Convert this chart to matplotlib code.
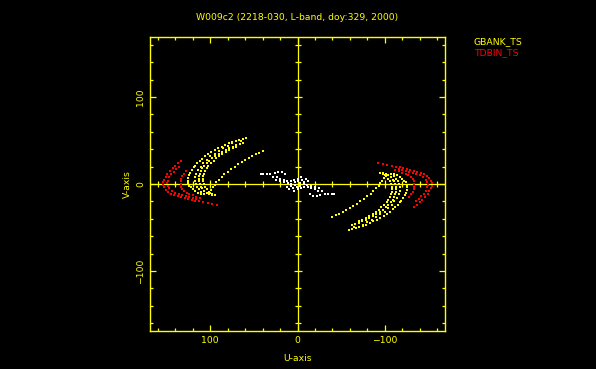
import matplotlib
matplotlib.use("Agg")
import matplotlib.pyplot as plt
import numpy as np

# ---------------- data (u, v) in kilo-lambda, one half of the uv-plane ----------------
# GBANK_TS tracks (yellow)
gb_u1 = [59, 63, 67, 71, 75, 79, 83, 87, 91, 95, 99, 103, 106, 109, 112, 115, 117, 119, 121, 123, 124, 125, 125, 125, 124, 122, 120, 117, 114, 111]
gb_v1 = [53, 52, 51, 50, 48, 47, 45, 43, 41, 39, 37, 34, 32, 29, 27, 24, 21, 19, 16, 13, 10, 7, 4, 1, -2, -4, -6, -8, -10, -11]
gb_u2 = [62, 66, 70, 74, 78, 82, 86, 90, 94, 98, 101, 104, 107, 109, 111, 112, 113, 113, 113, 112, 111, 109, 107, 104, 101, 98]
gb_v2 = [47, 46, 45, 43, 41, 39, 37, 35, 32, 30, 27, 24, 21, 18, 15, 12, 9, 6, 3, 0, -3, -5, -8, -10, -12, -13]
gb_u3 = [70, 74, 78, 82, 86, 90, 93, 96, 99, 102, 104, 106, 107, 108, 108, 108, 107, 106, 104, 101, 98, 95]
gb_v3 = [43, 41, 39, 37, 35, 32, 30, 27, 24, 21, 18, 15, 12, 9, 6, 3, 0, -3, -6, -9, -11, -13]
gb_u4 = [40, 44, 48, 52, 56, 60, 64, 68, 72, 76, 80, 84, 87, 90, 93, 95, 97, 99, 100, 101]
gb_v4 = [38, 36, 34, 32, 30, 28, 25, 23, 20, 17, 14, 11, 8, 5, 2, -1, -4, -7, -10, -12]
gb_u5 = [65, 70, 75, 80, 85, 90, 95, 100, 104, 108, 111, 114, 116, 117, 117, 116, 115, 113, 110, 107]
gb_v5 = [50, 49, 47, 44, 41, 38, 35, 32, 28, 24, 20, 16, 12, 8, 4, 0, -3, -6, -9, -11]

# TDBIN_TS tracks (red)
td_u1 = [134, 137, 140, 143, 146, 149, 151, 153, 154, 154, 153, 151, 148, 145, 141, 137, 133, 129, 125, 121, 117, 113, 108, 103, 98, 92]
td_v1 = [27, 24, 21, 18, 15, 11, 8, 5, 2, -1, -4, -7, -9, -11, -13, -14, -15, -16, -17, -18, -19, -20, -21, -22, -23, -24]
td_u2 = [136, 139, 142, 145, 147, 148, 149, 148, 147, 144, 140, 136, 132, 128, 124, 120, 116]
td_v2 = [20, 17, 14, 11, 8, 4, 1, -2, -5, -8, -10, -12, -13, -14, -15, -16, -17]
td_u3 = [128, 130, 132, 133, 134, 134, 134, 132, 130, 127, 124, 120, 116, 112]
td_v3 = [15, 12, 9, 6, 3, 0, -3, -6, -8, -10, -12, -13, -15, -16]

# short baselines (white)
sb_u = [42, 39, 35, 31, 26, 22, 18, 14, 28, 24, 20, 16, 12, 8, 4, 0, -4,
        25, 20, 15, 11, 7, 3, -1, 12, 7, 3, 10, 5]
sb_v = [11, 11, 12, 12, 13, 14, 14, 12, 8, 8, 6, 5, 4, 4, 5, 6, 8,
        5, 3, 2, 1, 0, 2, 3, -3, -2, -1, -6, -5]

title = "W009c2 (2218-030, L-band, doy:329, 2000)"
legend_names = ["GBANK_TS", "TDBIN_TS"]
xlabel = "U-axis"
ylabel = "V-axis"
lim = 169
major_ticks = [-100, 0, 100]
minor_ticks = [-160, -140, -120, -100, -80, -60, -40, -20, 0, 20, 40, 60, 80, 100, 120, 140, 160]

YEL = "#ffff00"
RED = "#ff0000"
FS = 6.7

fig = plt.figure(figsize=(5.96, 3.69), dpi=100, facecolor="black")
ax = fig.add_axes([150/596, 38/369, 295/596, 294/369], facecolor="black")


def uvplot(u, v, color, ms=1.6, marker="s"):
    u = np.asarray(u, float)
    v = np.asarray(v, float)
    for s in (1, -1):
        ax.plot(s*u, s*v, linestyle="none", marker=marker, ms=ms, mew=0, color=color, zorder=3)


for u, v in [(gb_u1, gb_v1), (gb_u2, gb_v2), (gb_u3, gb_v3), (gb_u4, gb_v4), (gb_u5, gb_v5)]:
    uvplot(u, v, YEL)
for u, v in [(td_u1, td_v1), (td_u2, td_v2), (td_u3, td_v3)]:
    uvplot(u, v, RED, ms=1.9)
uvplot(sb_u, sb_v, "white", ms=1.8)

ax.set_xlim(lim, -lim)
ax.set_ylim(-lim, lim)

# centre axes with crossing ticks
ax.axhline(0, color=YEL, lw=0.9, zorder=2)
ax.axvline(0, color=YEL, lw=0.9, zorder=2)
minor_c = [t for t in minor_ticks if t not in major_ticks and t != 0]
ax.plot(minor_c, [0]*len(minor_c), linestyle="none", marker="|", ms=4, mew=0.9, color=YEL, zorder=2)
ax.plot([0]*len(minor_c), minor_c, linestyle="none", marker="_", ms=4, mew=0.9, color=YEL, zorder=2)
maj_c = [t for t in major_ticks if t != 0]
ax.plot(maj_c, [0]*len(maj_c), linestyle="none", marker="|", ms=6, mew=0.9, color=YEL, zorder=2)
ax.plot([0]*len(maj_c), maj_c, linestyle="none", marker="_", ms=6, mew=0.9, color=YEL, zorder=2)

for sp in ax.spines.values():
    sp.set_color(YEL)
    sp.set_linewidth(1.0)

ax.set_xticks(major_ticks)
ax.set_yticks(major_ticks)
ax.set_xticks(minor_ticks, minor=True)
ax.set_yticks(minor_ticks, minor=True)
ax.set_xticklabels([str(t).replace("-", "\u2212") for t in major_ticks])
ax.set_yticklabels([str(t).replace("-", "\u2212") for t in major_ticks])
ax.tick_params(which="both", direction="in", colors=YEL, top=True, right=True, width=0.9)
ax.tick_params(which="major", length=4.0, labelsize=FS, pad=3.5)
ax.tick_params(which="minor", length=2.0)
plt.setp(ax.get_yticklabels(), rotation=90, va="center")

fig.text(297.5/596, 1-17/369, title, color=YEL, fontsize=FS, ha="center", va="center")
fig.text(298/596, 1-358.5/369, xlabel, color=YEL, fontsize=FS, ha="center", va="center")
fig.text(127/596, 1-184/369, ylabel, color=YEL, fontsize=FS, ha="center", va="center", rotation=90)
fig.text(474/596, 1-42/369, legend_names[0], color=YEL, fontsize=FS, ha="left", va="center")
fig.text(474/596, 1-53/369, legend_names[1], color=RED, fontsize=FS, ha="left", va="center")

fig.savefig("out.png", dpi=100, facecolor="black")
